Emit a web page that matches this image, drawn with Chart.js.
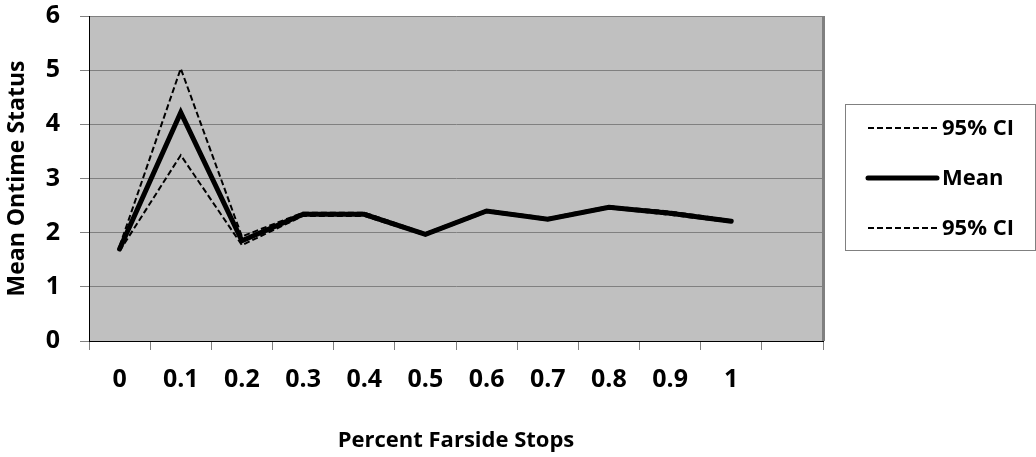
<!DOCTYPE html>
<html>
<head>
<meta charset="utf-8">
<script src="https://cdn.jsdelivr.net/npm/chart.js@4.4.0/dist/chart.umd.min.js"></script>
<style>
html, body { margin: 0; padding: 0; background: #fff; }
#wrap { width: 1036px; height: 457px; position: relative; }
</style>
</head>
<body>
<div id="wrap"><canvas id="ontimeChart"></canvas></div>
<script>
// categories on the x axis (last slot is empty in the original)
const categories = ['0', '0.1', '0.2', '0.3', '0.4', '0.5', '0.6', '0.7', '0.8', '0.9', '1', ''];
const upperCI = [1.75, 5.03, 1.93, 2.37, 2.37, 1.99, 2.42, 2.27, 2.49, 2.39, 2.23];
const meanStatus = [1.70, 4.22, 1.85, 2.34, 2.34, 1.97, 2.40, 2.25, 2.47, 2.36, 2.21];
const lowerCI = [1.66, 3.43, 1.77, 2.31, 2.31, 1.95, 2.38, 2.23, 2.45, 2.33, 2.19];
const yTicks = [0, 1, 2, 3, 4, 5, 6];

const FONT = '"Open Sans", "DejaVu Sans", sans-serif';

// gray plot area with a heavier right edge
const plotArea = {
    id: 'plotArea',
    beforeDraw(chart) {
        const { ctx, chartArea: a } = chart;
        ctx.save();
        ctx.fillStyle = '#c0c0c0';
        ctx.fillRect(a.left, a.top, a.right - a.left, a.bottom - a.top);
        ctx.restore();
    },
    afterDraw(chart) {
        const { ctx, chartArea: a } = chart;
        ctx.save();
        ctx.strokeStyle = '#808080';
        ctx.lineWidth = 3;
        ctx.beginPath();
        ctx.moveTo(a.right + 0.5, a.top);
        ctx.lineTo(a.right + 0.5, a.bottom);
        ctx.stroke();
        ctx.restore();
    }
};

// boxed legend on the right, like the Excel one
const boxLegend = {
    id: 'boxLegend',
    afterDraw(chart) {
        const { ctx } = chart;
        const left = chart.width - 191, top = 104, w = 191, h = 146;
        ctx.save();
        ctx.strokeStyle = '#808080';
        ctx.lineWidth = 1;
        ctx.strokeRect(left + 0.5, top + 0.5, w - 1, h);
        ctx.font = 'bold 22px ' + FONT;
        ctx.fillStyle = '#000';
        ctx.textBaseline = 'middle';
        chart.data.datasets.forEach((ds, i) => {
            const y = top + 24 + i * 50;
            ctx.beginPath();
            ctx.lineWidth = ds.borderWidth;
            ctx.strokeStyle = ds.borderColor;
            ctx.lineCap = ds.borderDash.length ? 'butt' : 'round';
            ctx.setLineDash(ds.borderDash);
            ctx.moveTo(left + 23, y);
            ctx.lineTo(left + 92, y);
            ctx.stroke();
            ctx.setLineDash([]);
            ctx.fillText(ds.label, left + 97, y + 1);
        });
        ctx.restore();
    }
};

const ctx = document.getElementById('ontimeChart').getContext('2d');
new Chart(ctx, {
    type: 'line',
    data: {
        labels: categories,
        datasets: [
            { label: '95% CI', data: upperCI, borderColor: '#000', borderWidth: 2, borderDash: [6, 3], pointRadius: 0, tension: 0 },
            { label: 'Mean', data: meanStatus, borderColor: '#000', borderWidth: 5, borderDash: [], borderCapStyle: 'round', pointRadius: 0, tension: 0 },
            { label: '95% CI', data: lowerCI, borderColor: '#000', borderWidth: 2, borderDash: [6, 3], pointRadius: 0, tension: 0 }
        ]
    },
    options: {
        responsive: true,
        maintainAspectRatio: false,
        animation: false,
        layout: { padding: { top: 16, right: 213, bottom: 0, left: 0 } },
        scales: {
            x: {
                offset: true,
                afterFit(scale) {
                    scale.height = 116;
                    scale.paddingLeft = 0;
                    scale.paddingRight = 0;
                },
                grid: { offset: true, drawOnChartArea: false, drawTicks: true, tickLength: 9, color: '#808080' },
                border: { color: '#000', width: 1 },
                ticks: { color: '#000', font: { family: FONT, size: 25, weight: 'bold' }, padding: 15, maxRotation: 0, autoSkip: false },
                title: { display: true, text: 'Percent Farside Stops', color: '#000', font: { family: FONT, size: 22, weight: 'bold' }, padding: { top: 17, bottom: 3 } }
            },
            y: {
                min: 0,
                max: 6,
                afterBuildTicks(scale) { scale.ticks = yTicks.map(v => ({ value: v })); },
                afterFit(scale) {
                    scale.width = 89;
                    scale.paddingTop = 0;
                    scale.paddingBottom = 0;
                },
                grid: { color: '#808080', tickLength: 9 },
                border: { color: '#000', width: 1 },
                ticks: { color: '#000', font: { family: FONT, size: 25, weight: 'bold' }, padding: 20 },
                title: { display: true, text: 'Mean Ontime Status', color: '#000', font: { family: FONT, size: 23, weight: 'bold' }, padding: { top: 4, bottom: 0 } }
            }
        },
        plugins: {
            legend: { display: false },
            tooltip: { enabled: false }
        }
    },
    plugins: [plotArea, boxLegend]
});
</script>
</body>
</html>
